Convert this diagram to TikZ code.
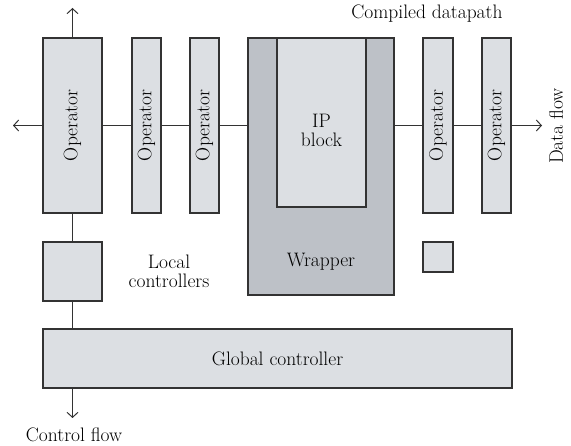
\documentclass[tikz,border=0pt]{standalone}
\usepackage{graphicx}
\usepackage{tikz}
\usetikzlibrary{positioning, arrows.meta}
\definecolor{BoxGray}{HTML}{DCDFE3}
\definecolor{WrapGray}{HTML}{BDC1C7}
\definecolor{EdgeGray}{HTML}{333333}

\begin{document}
\begin{tikzpicture}[x=1pt, y=-1pt,
            txt/.style={font=\fontsize{19.5}{22}\selectfont, text=black, align=center},
            opbox/.style={draw=EdgeGray, line width=1.2pt, fill=BoxGray, inner sep=0pt, minimum height=175pt, txt},
            ctrlbox/.style={draw=EdgeGray, line width=1.2pt, fill=BoxGray, inner sep=0pt, txt},
            wrapbox/.style={draw=EdgeGray, line width=1.2pt, fill=WrapGray, inner sep=0pt},
            flow/.style={draw=EdgeGray, line width=1pt},
            flowarrow/.style={flow, -{Straight Barb[length=5pt, width=11pt]}}
        ]
            \useasboundingbox (0,0) rectangle (571,446);

            % datapath operators
            \node[opbox, minimum width=59pt] at (72.5, 125.5) (op1) {\rotatebox{90}{Operator}};
            \node[opbox, minimum width=29pt] at (146.5, 125.5) (op2) {\rotatebox{90}{Operator}};
            \node[opbox, minimum width=29pt] at (204.5, 125.5) (op3) {\rotatebox{90}{Operator}};
            \node[opbox, minimum width=30pt] at (438, 125.5) (op4) {\rotatebox{90}{Operator}};
            \node[opbox, minimum width=29pt] at (496.5, 125.5) (op5) {\rotatebox{90}{Operator}};

            % wrapped IP block
            \node[wrapbox, minimum width=146pt, minimum height=257pt] at (321, 166.5) (wrap) {};
            \node[wrapbox, fill=BoxGray, minimum width=89pt, minimum height=169pt] at (321.5, 122.5) (ip) {};
            \node[txt] at (321.5, 130) (iptext) {IP\\[-3pt]block};
            \node[txt] at (321, 262) (wraptext) {Wrapper};

            % controllers
            \node[ctrlbox, minimum width=59pt, minimum height=59pt] at (72.5, 271.5) (local) {};
            \node[ctrlbox, minimum width=30pt, minimum height=30pt] at (438, 257) (small) {};
            \node[ctrlbox, minimum width=469pt, minimum height=59pt] at (277.5, 358.5) (global) {Global controller};
            \node[txt] at (169, 271) (localtext) {Local\\[-3pt]controllers};

            % labels
            \node[txt] at (427, 14) (title) {Compiled datapath};
            \node[txt, rotate=90] at (556, 126) (dataflow) {Data flow};
            \node[txt] at (74, 435) (ctrlflow) {Control flow};

            \coordinate (topend) at (72.5, 8);
            \coordinate (leftend) at (13, 125.5);
            \coordinate (rightend) at (542, 125.5);
            \coordinate (bottomend) at (72.5, 418);

            % data flow
            \draw[flowarrow] (op1.north) -- (topend);
            \draw[flowarrow] (op1.west) -- (leftend);
            \draw[flow] (op1.east) -- (op2.west);
            \draw[flow] (op2.east) -- (op3.west);
            \draw[flow] (op3.east) -- (op3.east -| wrap.west);
            \draw[flow] (wrap.east |- op4.west) -- (op4.west);
            \draw[flow] (op4.east) -- (op5.west);
            \draw[flowarrow] (op5.east) -- (rightend);

            % control flow
            \draw[flow] (op1.south) -- (local.north);
            \draw[flow] (local.south) -- (local.south |- global.north);
            \draw[flowarrow] (local.south |- global.south) -- (bottomend);

        \end{tikzpicture}
\end{document}
